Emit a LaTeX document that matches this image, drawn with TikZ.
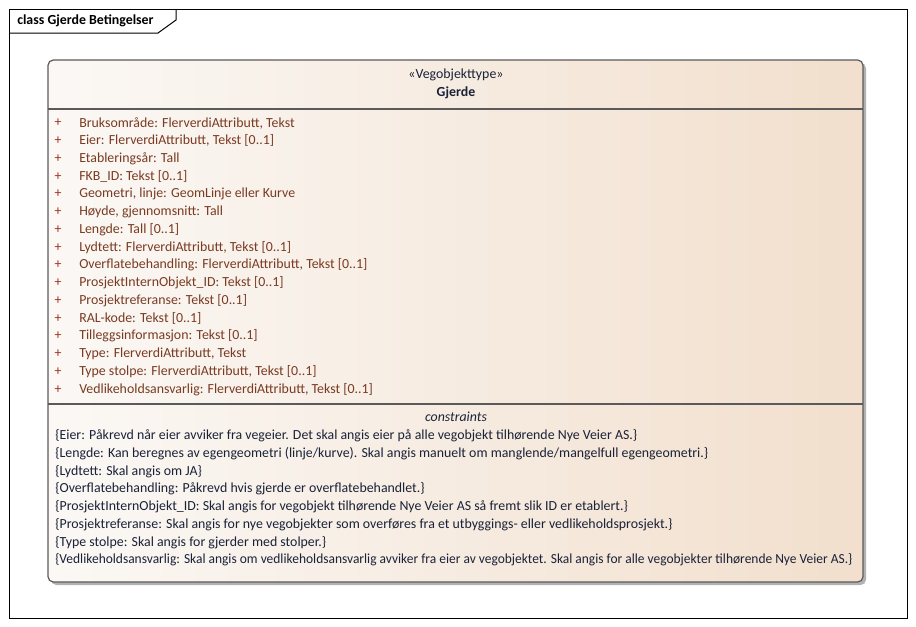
\documentclass[tikz,border=0pt]{standalone}
\usepackage{fontspec}
\setmainfont{Carlito}
\usepackage{tikz}

\definecolor{attrbrown}{RGB}{122,59,34}
\definecolor{plusred}{RGB}{160,50,30}
\definecolor{consnavy}{RGB}{26,34,56}
\definecolor{boxline}{RGB}{90,90,90}
\definecolor{boxleft}{RGB}{251,248,245}
\definecolor{boxright}{RGB}{242,223,205}

\tikzset{
  txt/.style={inner sep=0.75pt, font=\fontsize{10.4}{12}\selectfont},
  attr/.style={txt, anchor=west, text=attrbrown},
  plussign/.style={txt, text=plusred},
  cons/.style={txt, anchor=west, text=consnavy},
  head/.style={txt, text=consnavy}
}

\begin{document}
\begin{tikzpicture}[x=0.75pt,y=0.75pt,yscale=-1,xscale=1]
\useasboundingbox (0,0) rectangle (916,626);

%Shape: Frame
\draw [line width=0.75]  (9,9) rectangle (907,618) ;
%Shape: Tab
\draw [line width=0.75]  (9,33) -- (158,33) -- (176,20) -- (176,9) ;
% Text Node
\draw (16,20.5) node [txt, anchor=west, font=\fontsize{10.4}{12}\selectfont\bfseries] (title) {class Gjerde Betingelser};

%Shape: Shadow
\fill [black!30, rounded corners=4] (51,63) rectangle (866,585) ;
%Shape: Class box
\draw [boxline, line width=0.9, rounded corners=4, left color=boxleft, right color=boxright]  (48,60) rectangle (863,582) ;
%Straight Lines
\draw [boxline, line width=0.9]  (48,109) -- (863,109) ;
%Straight Lines
\draw [boxline, line width=0.9]  (48,404) -- (863,404) ;

% Text Node
\draw (456,75) node [head] (stereo) {«Vegobjekttype»};
% Text Node
\draw (456,93) node [head, font=\fontsize{10.4}{12}\selectfont\bfseries] (name) {Gjerde};

% Attributes
\foreach \i/\t in {0/{Bruksområde: FlerverdiAttributt, Tekst},
                   1/{Eier: FlerverdiAttributt, Tekst [0..1]},
                   2/{Etableringsår: Tall},
                   3/{FKB\_ID: Tekst [0..1]},
                   4/{Geometri, linje: GeomLinje eller Kurve},
                   5/{Høyde, gjennomsnitt: Tall},
                   6/{Lengde: Tall [0..1]},
                   7/{Lydtett: FlerverdiAttributt, Tekst [0..1]},
                   8/{Overflatebehandling: FlerverdiAttributt, Tekst [0..1]},
                   9/{ProsjektInternObjekt\_ID: Tekst [0..1]},
                   10/{Prosjektreferanse: Tekst [0..1]},
                   11/{RAL-kode: Tekst [0..1]},
                   12/{Tilleggsinformasjon: Tekst [0..1]},
                   13/{Type: FlerverdiAttributt, Tekst},
                   14/{Type stolpe: FlerverdiAttributt, Tekst [0..1]},
                   15/{Vedlikeholdsansvarlig: FlerverdiAttributt, Tekst [0..1]}}
{
  \draw (58,123+\i*17.75) node [plussign] (p\i) {+};
  \draw (78,123+\i*17.75) node [attr] (a\i) {\t};
}

% Text Node
\draw (456,417) node [head, font=\fontsize{10.4}{12}\selectfont\itshape] (constr) {constraints};

% Constraints
\foreach \i/\t in {0/{\{Eier: Påkrevd når eier avviker fra vegeier. Det skal angis eier på alle vegobjekt tilhørende Nye Veier AS.\}},
                   1/{\{Lengde: Kan beregnes av egengeometri (linje/kurve). Skal angis manuelt om manglende/mangelfull egengeometri.\}},
                   2/{\{Lydtett: Skal angis om JA\}},
                   3/{\{Overflatebehandling: Påkrevd hvis gjerde er overflatebehandlet.\}},
                   4/{\{ProsjektInternObjekt\_ID: Skal angis for vegobjekt tilhørende Nye Veier AS så fremt slik ID er etablert.\}},
                   5/{\{Prosjektreferanse: Skal angis for nye vegobjekter som overføres fra et utbyggings- eller vedlikeholdsprosjekt.\}},
                   6/{\{Type stolpe: Skal angis for gjerder med stolper.\}}}
{
  \draw (54,436+\i*17.7) node [cons] (c\i) {\t};
}
% Text Node (squeezed to fit the box)
\draw (54,436+7*17.7) node [cons] (c7) {\scalebox{0.97}[1]{\{Vedlikeholdsansvarlig: Skal angis om vedlikeholdsansvarlig avviker fra eier av vegobjektet. Skal angis for alle vegobjekter tilhørende Nye Veier AS.\}}};

\end{tikzpicture}
\end{document}
